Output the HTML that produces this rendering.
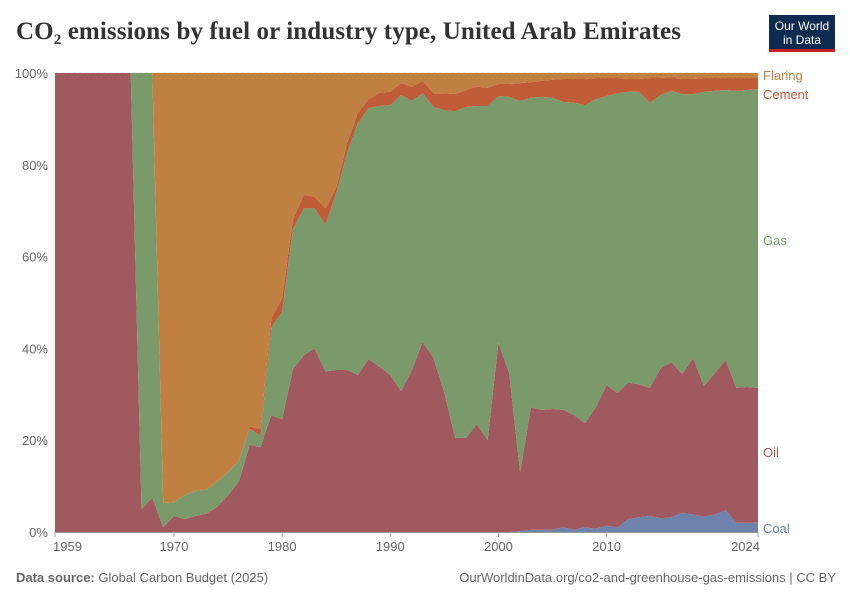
<!DOCTYPE html>
<html><head><meta charset="utf-8"><style>
body{margin:0;background:#fff;width:850px;height:600px;overflow:hidden;font-family:"Liberation Sans",sans-serif}
</style></head><body>
<svg width="850" height="600" xmlns="http://www.w3.org/2000/svg">
<text x="16" y="39" font-family="'Liberation Serif',serif" font-size="25" font-weight="bold" fill="#333" textLength="665" lengthAdjust="spacing">CO<tspan font-size="15" dy="5">2</tspan><tspan dy="-5"> emissions by fuel or industry type, United Arab Emirates</tspan></text>
<g>
<rect x="769" y="15" width="66" height="36" fill="#0f2b50"/>
<rect x="769" y="49" width="66" height="3" fill="#c8202c"/>
<text x="802" y="30" text-anchor="middle" font-size="12" fill="#fff">Our World</text>
<text x="802" y="44" text-anchor="middle" font-size="12" fill="#fff">in Data</text>
</g>
<g id="grid"></g>
<g id="areas"></g>
<g id="axes"></g>
<text x="16" y="582" font-size="13" fill="#666"><tspan font-weight="bold">Data source:</tspan> Global Carbon Budget (2025)</text>
<text x="836" y="582" text-anchor="end" font-size="13" fill="#666">OurWorldinData.org/co2-and-greenhouse-gas-emissions | CC BY</text>
</svg>
<script>
const years=[];for(let y=1959;y<=2024;y++)years.push(y);
const coal=[0,0,0,0,0,0,0,0,0,0, 0,0,0,0,0,0,0,0,0,0, 0,0,0,0,0,0,0,0,0,0, 0,0,0,0,0,0,0,0,0,0, 0,0,0, .2,.5,.5,.5,1,.5,1,.7,1.4,1,2.8,3.2,3.5,3,3.2,4.2,3.8,3.4,3.8,4.8,2,2,2];
const oil=[100,100,100,100,100,100,100,100,5,7.5,1,3.5,2.8,3.5,4,5.5,8,11,19,18.5,25.5,24.5,35.5,38.5,40,35,35.3,35.3,34.2,37.7,36,34.2,30.7,35.3,41.4,37.9,30.3,20.5,20.5,23.5,20,41.2,34.6,12.7,26.7,26.1,26.3,25.6,25,22.7,26.5,30.6,29.3,29.7,29,27.9,32.7,33.8,30.2,34.1,28.4,30.8,32.7,29.4,29.6,29.4];
const gas=[0,0,0,0,0,0,0,0,95,92.5,5.3,3,5.2,5.5,5.2,5.5,5,4.5,3.5,2.5,19,23.5,30.5,32,30.5,32,38.5,47.3,54.8,54.7,56.8,58.8,64.5,58.6,54.2,54.7,61.6,71.2,72.1,69.3,72.8,53.8,60.2,81,67.4,68.2,67.8,67.1,68,69.3,67.1,63,65.3,63.4,63.7,62.1,59.5,59.1,61,57.5,64.1,61.5,58.8,64.7,64.7,65.1];
const cement=[0,0,0,0,0,0,0,0,0,0,0,0,0,0,0,0,0,0,.5,1.5,2,3,2,3,2.5,3.5,1.2,2.1,2.3,1.9,2.9,2.9,2.6,3.1,2.7,3,3.7,3.7,3.7,4.2,4,2.6,2.8,3.9,3.4,3.5,3.9,5,5.2,5.7,4.6,3.9,3.3,2.8,2.8,5.4,3.7,3,3.3,3.3,3,2.8,2.6,2.8,2.6,2.4];
const flaring=[0,0,0,0,0,0,0,0,0,0,93.7,93.5,92,91,90.8,89,87,84.5,77,77.5,53.5,49,32,26.5,27,29.5,25,15.3,8.7,5.7,4.3,4.1,2.2,3,1.7,4.4,4.4,4.6,3.7,3,3.2,2.4,2.4,2.2,2,1.7,1.5,1.3,1.3,1.3,1.1,1.1,1.1,1.3,1.3,1.1,1.1,.9,1.3,1.3,1.1,1.1,1.1,1.1,1.1,1.1];
const yTicks=[0,20,40,60,80,100];
const xTicks=[1959,1970,1980,1990,2000,2010,2024];
const seriesNames=["Coal","Oil","Gas","Cement","Flaring"];
const seriesColors=["#6d83ab","#a0595f","#7a9a6b","#c05c38","#c08042"];
const X0=55,X1=758,Y0=532,Y1=73;
const xs=y=>X0+(y-1959)/(2024-1959)*(X1-X0);
const ys=p=>Y0-p/100*(Y0-Y1);
const NS="http://www.w3.org/2000/svg";
function mk(tag,attrs,parent){const e=document.createElementNS(NS,tag);for(const k in attrs)e.setAttribute(k,attrs[k]);parent.appendChild(e);return e;}
const grid=document.getElementById('grid'),areas=document.getElementById('areas'),axes=document.getElementById('axes');
yTicks.forEach(t=>{
 const l=mk('line',{x1:X0,x2:X1,y1:ys(t),y2:ys(t),stroke:'#ddd','stroke-dasharray':'3,3'},grid);
 
 
 const tx=mk('text',{x:48,y:ys(t)+5,'text-anchor':'end','font-size':13,fill:'#666'},axes);
 tx.textContent=t+'%';
 
 
});
const all=[coal,oil,gas,cement,flaring];
const totals=years.map((y,i)=>all.reduce((a,s)=>a+(s[i]||0),0)||1);
let base=years.map(()=>0);
all.forEach((s,si)=>{
 const top=base.map((b,i)=>b+(s[i]||0)/totals[i]*100);
 let d=years.map((y,i)=>(i?'L':'M')+xs(y).toFixed(1)+','+ys(top[i]).toFixed(1)).join('');
 for(let i=years.length-1;i>=0;i--)d+='L'+xs(years[i]).toFixed(1)+','+ys(base[i]).toFixed(1);
 const p=mk('path',{d:d+'Z',fill:seriesColors[si]},areas);
 
 
 base=top;
});
mk('line',{x1:X0,x2:X1,y1:Y0+0.5,y2:Y0+0.5,stroke:'#999'},axes);
xTicks.forEach(t=>{
 mk('line',{x1:xs(t),x2:xs(t),y1:Y0,y2:Y0+5,stroke:'#999'},axes);
 const tx=mk('text',{x:xs(t),y:551,'text-anchor':t===1959?'start':(t===2024?'end':'middle'),'font-size':13,fill:'#666'},axes);
 if(t===1959)tx.setAttribute('x',xs(t)-2);
 if(t===2024)tx.setAttribute('x',xs(t)+2);
 tx.textContent=t;
 
 
});
const legY=[532,456,244,98,79];
seriesNames.forEach((n,i)=>{
 const tx=mk('text',{x:763,y:legY[i]+1,'font-size':13,fill:seriesColors[i]},axes);
 tx.textContent=n;
 
 
});
</script>
</body></html>
